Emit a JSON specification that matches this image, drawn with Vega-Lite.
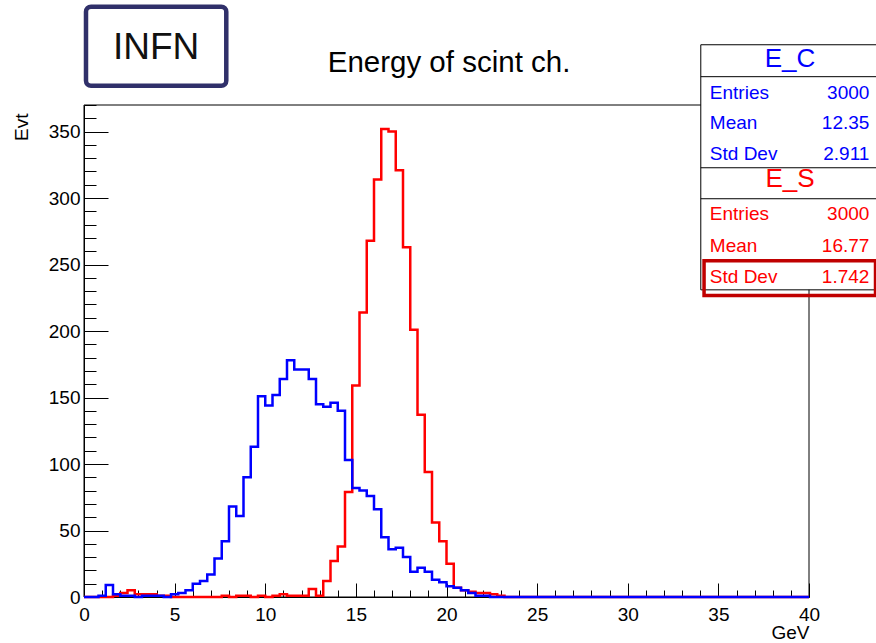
{
  "$schema": "https://vega.github.io/schema/vega-lite/v6.json",
  "width": 725,
  "height": 492,
  "autosize": "none",
  "padding": {"left": 84, "top": 105, "right": 67, "bottom": 46},
  "background": "white",
  "config": {
    "view": {"stroke": null},
    "font": "Liberation Sans",
    "text": {"font": "Liberation Sans"}
  },
  "datasets": {
    "bins": [
      {"E": 0, "E_C": 0, "E_S": 0}, {"E": 0.4, "E_C": 0, "E_S": 0}, {"E": 0.8, "E_C": 1, "E_S": 0}, {"E": 1.2, "E_C": 9, "E_S": 0},
      {"E": 1.6, "E_C": 2, "E_S": 1}, {"E": 2, "E_C": 1, "E_S": 3}, {"E": 2.4, "E_C": 1, "E_S": 5}, {"E": 2.8, "E_C": 0, "E_S": 2},
      {"E": 3.2, "E_C": 1, "E_S": 2}, {"E": 3.6, "E_C": 1, "E_S": 2}, {"E": 4, "E_C": 1, "E_S": 1}, {"E": 4.4, "E_C": 0, "E_S": 1},
      {"E": 4.8, "E_C": 2, "E_S": 0}, {"E": 5.2, "E_C": 3, "E_S": 0}, {"E": 5.6, "E_C": 5, "E_S": 0}, {"E": 6, "E_C": 10, "E_S": 0},
      {"E": 6.4, "E_C": 12, "E_S": 0}, {"E": 6.8, "E_C": 17, "E_S": 0}, {"E": 7.2, "E_C": 29, "E_S": 0}, {"E": 7.6, "E_C": 42, "E_S": 1},
      {"E": 8, "E_C": 68, "E_S": 0}, {"E": 8.4, "E_C": 61, "E_S": 1}, {"E": 8.8, "E_C": 90, "E_S": 1}, {"E": 9.2, "E_C": 113, "E_S": 0},
      {"E": 9.6, "E_C": 151, "E_S": 1}, {"E": 10, "E_C": 144, "E_S": 0}, {"E": 10.4, "E_C": 152, "E_S": 1}, {"E": 10.8, "E_C": 164, "E_S": 2},
      {"E": 11.2, "E_C": 178, "E_S": 1}, {"E": 11.6, "E_C": 171, "E_S": 1}, {"E": 12, "E_C": 171, "E_S": 1}, {"E": 12.4, "E_C": 164, "E_S": 6},
      {"E": 12.8, "E_C": 145, "E_S": 1}, {"E": 13.2, "E_C": 143, "E_S": 12}, {"E": 13.6, "E_C": 146, "E_S": 27}, {"E": 14, "E_C": 140, "E_S": 38},
      {"E": 14.4, "E_C": 103, "E_S": 79}, {"E": 14.8, "E_C": 82, "E_S": 159}, {"E": 15.2, "E_C": 80, "E_S": 214}, {"E": 15.6, "E_C": 76, "E_S": 268},
      {"E": 16, "E_C": 66, "E_S": 314}, {"E": 16.4, "E_C": 45, "E_S": 352}, {"E": 16.8, "E_C": 36, "E_S": 350}, {"E": 17.2, "E_C": 37, "E_S": 321},
      {"E": 17.6, "E_C": 30, "E_S": 263}, {"E": 18, "E_C": 19, "E_S": 201}, {"E": 18.4, "E_C": 22, "E_S": 137}, {"E": 18.8, "E_C": 19, "E_S": 94},
      {"E": 19.2, "E_C": 13, "E_S": 56}, {"E": 19.6, "E_C": 11, "E_S": 42}, {"E": 20, "E_C": 8, "E_S": 25}, {"E": 20.4, "E_C": 7, "E_S": 7},
      {"E": 20.8, "E_C": 5, "E_S": 5}, {"E": 21.2, "E_C": 3, "E_S": 4}, {"E": 21.6, "E_C": 1, "E_S": 3}, {"E": 22, "E_C": 1, "E_S": 3},
      {"E": 22.4, "E_C": 0, "E_S": 2}, {"E": 22.8, "E_C": 0, "E_S": 1}, {"E": 23.2, "E_C": 0, "E_S": 0}, {"E": 23.6, "E_C": 0, "E_S": 0},
      {"E": 24, "E_C": 0, "E_S": 0}, {"E": 24.4, "E_C": 0, "E_S": 0}, {"E": 24.8, "E_C": 0, "E_S": 0}, {"E": 25.2, "E_C": 0, "E_S": 0},
      {"E": 25.6, "E_C": 0, "E_S": 0}, {"E": 26, "E_C": 0, "E_S": 0}, {"E": 26.4, "E_C": 0, "E_S": 0}, {"E": 26.8, "E_C": 0, "E_S": 0},
      {"E": 27.2, "E_C": 0, "E_S": 0}, {"E": 27.6, "E_C": 0, "E_S": 0}, {"E": 28, "E_C": 0, "E_S": 0}, {"E": 28.4, "E_C": 0, "E_S": 0},
      {"E": 28.8, "E_C": 0, "E_S": 0}, {"E": 29.2, "E_C": 0, "E_S": 0}, {"E": 29.6, "E_C": 0, "E_S": 0}, {"E": 30, "E_C": 0, "E_S": 0},
      {"E": 30.4, "E_C": 0, "E_S": 0}, {"E": 30.8, "E_C": 0, "E_S": 0}, {"E": 31.2, "E_C": 0, "E_S": 0}, {"E": 31.6, "E_C": 0, "E_S": 0},
      {"E": 32, "E_C": 0, "E_S": 0}, {"E": 32.4, "E_C": 0, "E_S": 0}, {"E": 32.8, "E_C": 0, "E_S": 0}, {"E": 33.2, "E_C": 0, "E_S": 0},
      {"E": 33.6, "E_C": 0, "E_S": 0}, {"E": 34, "E_C": 0, "E_S": 0}, {"E": 34.4, "E_C": 0, "E_S": 0}, {"E": 34.8, "E_C": 0, "E_S": 0},
      {"E": 35.2, "E_C": 0, "E_S": 0}, {"E": 35.6, "E_C": 0, "E_S": 0}, {"E": 36, "E_C": 0, "E_S": 0}, {"E": 36.4, "E_C": 0, "E_S": 0},
      {"E": 36.8, "E_C": 0, "E_S": 0}, {"E": 37.2, "E_C": 0, "E_S": 0}, {"E": 37.6, "E_C": 0, "E_S": 0}, {"E": 38, "E_C": 0, "E_S": 0},
      {"E": 38.4, "E_C": 0, "E_S": 0}, {"E": 38.8, "E_C": 0, "E_S": 0}, {"E": 39.2, "E_C": 0, "E_S": 0}, {"E": 39.6, "E_C": 0, "E_S": 0},
      {"E": 40, "E_C": 0, "E_S": 0}
    ]
  },
  "resolve": {"axis": {"x": "independent", "y": "independent"}},
  "layer": [
    {
      "data": {"values": [{}]},
      "mark": {"type": "rect", "filled": false, "stroke": "black", "strokeWidth": 1},
      "encoding": {
        "x": {"datum": 0, "type": "quantitative", "axis": null},
        "x2": {"datum": 40},
        "y": {"datum": 0, "type": "quantitative", "axis": null},
        "y2": {"datum": 370}
      }
    },
    {
      "data": {"name": "bins"},
      "mark": {"type": "line", "interpolate": "step-after", "color": "#ff0000", "strokeWidth": 2.5},
      "encoding": {
        "x": {
          "field": "E", "type": "quantitative",
          "scale": {"domain": [0, 40], "nice": false, "zero": false},
          "axis": {
            "orient": "bottom", "values": [0, 5, 10, 15, 20, 25, 30, 35, 40],
            "grid": false, "tickSize": -14, "tickColor": "black", "domainColor": "black",
            "labelFont": "Liberation Sans", "labelFontSize": 19, "labelColor": "black",
            "labelPadding": 22, "labelFlush": false, "labelOverlap": false,
            "title": "GeV", "titleFont": "Liberation Sans", "titleFontSize": 19, "titleFontWeight": "normal",
            "titleColor": "black", "titleAnchor": "end", "titleAlign": "right", "titleBaseline": "alphabetic",
            "titleX": 725, "titleY": 41
          }
        },
        "y": {
          "field": "E_S", "type": "quantitative",
          "scale": {"domain": [0, 370], "nice": false, "zero": true},
          "axis": {
            "orient": "left", "values": [0, 50, 100, 150, 200, 250, 300, 350],
            "grid": false, "tickSize": -24, "tickColor": "black", "domainColor": "black",
            "labelFont": "Liberation Sans", "labelFontSize": 19, "labelColor": "black",
            "labelPadding": 28, "labelOverlap": false,
            "title": "Evt", "titleFont": "Liberation Sans", "titleFontSize": 19, "titleFontWeight": "normal",
            "titleColor": "black", "titleAngle": 270, "titleAlign": "right", "titleBaseline": "bottom",
            "titleX": -53, "titleY": 8
          }
        }
      }
    },
    {
      "data": {"name": "bins"},
      "mark": {"type": "line", "interpolate": "step-after", "color": "#0000ff", "strokeWidth": 2.5},
      "encoding": {
        "x": {
          "field": "E", "type": "quantitative",
          "axis": {
            "orient": "bottom", "values": [0, 1, 2, 3, 4, 5, 6, 7, 8, 9, 10, 11, 12, 13, 14, 15, 16, 17, 18, 19, 20, 21, 22, 23, 24, 25, 26, 27, 28, 29, 30, 31, 32, 33, 34, 35, 36, 37, 38, 39, 40],
            "grid": false, "domain": false, "labels": false, "title": null,
            "tickSize": -7, "tickColor": "black"
          }
        },
        "y": {
          "field": "E_C", "type": "quantitative",
          "axis": {
            "orient": "left", "values": [0, 10, 20, 30, 40, 50, 60, 70, 80, 90, 100, 110, 120, 130, 140, 150, 160, 170, 180, 190, 200, 210, 220, 230, 240, 250, 260, 270, 280, 290, 300, 310, 320, 330, 340, 350, 360, 370],
            "grid": false, "domain": false, "labels": false, "title": null,
            "tickSize": -12, "tickColor": "black"
          }
        }
      }
    },
    {
      "data": {"values": [{}]},
      "mark": {"type": "text", "text": "Energy of scint ch.", "fontSize": 29.5, "align": "center", "baseline": "alphabetic", "color": "black"},
      "encoding": {
        "x": {"datum": 20.14, "type": "quantitative", "axis": null},
        "y": {"datum": 395, "type": "quantitative", "axis": null}
      }
    },
    {
      "data": {"values": [{}]},
      "mark": {"type": "rect", "cornerRadius": 5, "fill": "white", "stroke": "#30306a", "strokeWidth": 4.5},
      "encoding": {
        "x": {"datum": 0.11, "type": "quantitative", "axis": null},
        "x2": {"datum": 7.85},
        "y": {"datum": 443.9, "type": "quantitative", "axis": null},
        "y2": {"datum": 384.4}
      }
    },
    {
      "data": {"values": [{}]},
      "mark": {"type": "text", "text": "INFN", "fontSize": 37, "align": "center", "baseline": "middle", "color": "#111111"},
      "encoding": {
        "x": {"datum": 3.98, "type": "quantitative", "axis": null},
        "y": {"datum": 413.1, "type": "quantitative", "axis": null}
      }
    },
    {
      "data": {"values": [{}]},
      "mark": {"type": "rect", "fill": "white", "stroke": "black", "strokeWidth": 1},
      "encoding": {
        "x": {"datum": 34.03, "type": "quantitative", "axis": null},
        "x2": {"datum": 43.98},
        "y": {"datum": 415.3, "type": "quantitative", "axis": null},
        "y2": {"datum": 231.0}
      }
    },
    {
      "data": {"values": [{"y": 391.3}, {"y": 322.8}, {"y": 299.5}]},
      "mark": {"type": "rule", "color": "black", "strokeWidth": 1},
      "encoding": {
        "x": {"datum": 34.03, "type": "quantitative", "axis": null},
        "x2": {"datum": 43.98},
        "y": {"field": "y", "type": "quantitative", "axis": null}
      }
    },
    {
      "data": {"values": [{}]},
      "mark": {"type": "text", "text": "E_C", "fontSize": 26, "align": "center", "baseline": "alphabetic", "color": "#0000ff"},
      "encoding": {
        "x": {"datum": 38.95, "type": "quantitative", "axis": null},
        "y": {"datum": 398.5, "type": "quantitative", "axis": null}
      }
    },
    {
      "data": {"values": [{}]},
      "mark": {"type": "text", "text": "Entries", "fontSize": 19, "align": "left", "baseline": "alphabetic", "color": "#0000ff"},
      "encoding": {"x": {"datum": 34.53, "type": "quantitative", "axis": null}, "y": {"datum": 374.7, "type": "quantitative", "axis": null}}
    },
    {
      "data": {"values": [{}]},
      "mark": {"type": "text", "text": "3000", "fontSize": 19, "align": "right", "baseline": "alphabetic", "color": "#0000ff"},
      "encoding": {"x": {"datum": 43.33, "type": "quantitative", "axis": null}, "y": {"datum": 374.7, "type": "quantitative", "axis": null}}
    },
    {
      "data": {"values": [{}]},
      "mark": {"type": "text", "text": "Mean", "fontSize": 19, "align": "left", "baseline": "alphabetic", "color": "#0000ff"},
      "encoding": {"x": {"datum": 34.53, "type": "quantitative", "axis": null}, "y": {"datum": 351.9, "type": "quantitative", "axis": null}}
    },
    {
      "data": {"values": [{}]},
      "mark": {"type": "text", "text": "12.35", "fontSize": 19, "align": "right", "baseline": "alphabetic", "color": "#0000ff"},
      "encoding": {"x": {"datum": 43.33, "type": "quantitative", "axis": null}, "y": {"datum": 351.9, "type": "quantitative", "axis": null}}
    },
    {
      "data": {"values": [{}]},
      "mark": {"type": "text", "text": "Std Dev", "fontSize": 19, "align": "left", "baseline": "alphabetic", "color": "#0000ff"},
      "encoding": {"x": {"datum": 34.53, "type": "quantitative", "axis": null}, "y": {"datum": 328.8, "type": "quantitative", "axis": null}}
    },
    {
      "data": {"values": [{}]},
      "mark": {"type": "text", "text": "2.911", "fontSize": 19, "align": "right", "baseline": "alphabetic", "color": "#0000ff"},
      "encoding": {"x": {"datum": 43.33, "type": "quantitative", "axis": null}, "y": {"datum": 328.8, "type": "quantitative", "axis": null}}
    },
    {
      "data": {"values": [{}]},
      "mark": {"type": "text", "text": "E_S", "fontSize": 26, "align": "center", "baseline": "alphabetic", "color": "#ff0000"},
      "encoding": {"x": {"datum": 38.95, "type": "quantitative", "axis": null}, "y": {"datum": 308.5, "type": "quantitative", "axis": null}}
    },
    {
      "data": {"values": [{}]},
      "mark": {"type": "text", "text": "Entries", "fontSize": 19, "align": "left", "baseline": "alphabetic", "color": "#ff0000"},
      "encoding": {"x": {"datum": 34.53, "type": "quantitative", "axis": null}, "y": {"datum": 283.7, "type": "quantitative", "axis": null}}
    },
    {
      "data": {"values": [{}]},
      "mark": {"type": "text", "text": "3000", "fontSize": 19, "align": "right", "baseline": "alphabetic", "color": "#ff0000"},
      "encoding": {"x": {"datum": 43.33, "type": "quantitative", "axis": null}, "y": {"datum": 283.7, "type": "quantitative", "axis": null}}
    },
    {
      "data": {"values": [{}]},
      "mark": {"type": "text", "text": "Mean", "fontSize": 19, "align": "left", "baseline": "alphabetic", "color": "#ff0000"},
      "encoding": {"x": {"datum": 34.53, "type": "quantitative", "axis": null}, "y": {"datum": 259.8, "type": "quantitative", "axis": null}}
    },
    {
      "data": {"values": [{}]},
      "mark": {"type": "text", "text": "16.77", "fontSize": 19, "align": "right", "baseline": "alphabetic", "color": "#ff0000"},
      "encoding": {"x": {"datum": 43.33, "type": "quantitative", "axis": null}, "y": {"datum": 259.8, "type": "quantitative", "axis": null}}
    },
    {
      "data": {"values": [{}]},
      "mark": {"type": "text", "text": "Std Dev", "fontSize": 19, "align": "left", "baseline": "alphabetic", "color": "#ff0000"},
      "encoding": {"x": {"datum": 34.53, "type": "quantitative", "axis": null}, "y": {"datum": 236.0, "type": "quantitative", "axis": null}}
    },
    {
      "data": {"values": [{}]},
      "mark": {"type": "text", "text": "1.742", "fontSize": 19, "align": "right", "baseline": "alphabetic", "color": "#ff0000"},
      "encoding": {"x": {"datum": 43.33, "type": "quantitative", "axis": null}, "y": {"datum": 236.0, "type": "quantitative", "axis": null}}
    },
    {
      "data": {"values": [{}]},
      "mark": {"type": "rect", "filled": false, "stroke": "#c00000", "strokeWidth": 3.5},
      "encoding": {
        "x": {"datum": 34.21, "type": "quantitative", "axis": null},
        "x2": {"datum": 43.67},
        "y": {"datum": 252.8, "type": "quantitative", "axis": null},
        "y2": {"datum": 226.7}
      }
    }
  ]
}
